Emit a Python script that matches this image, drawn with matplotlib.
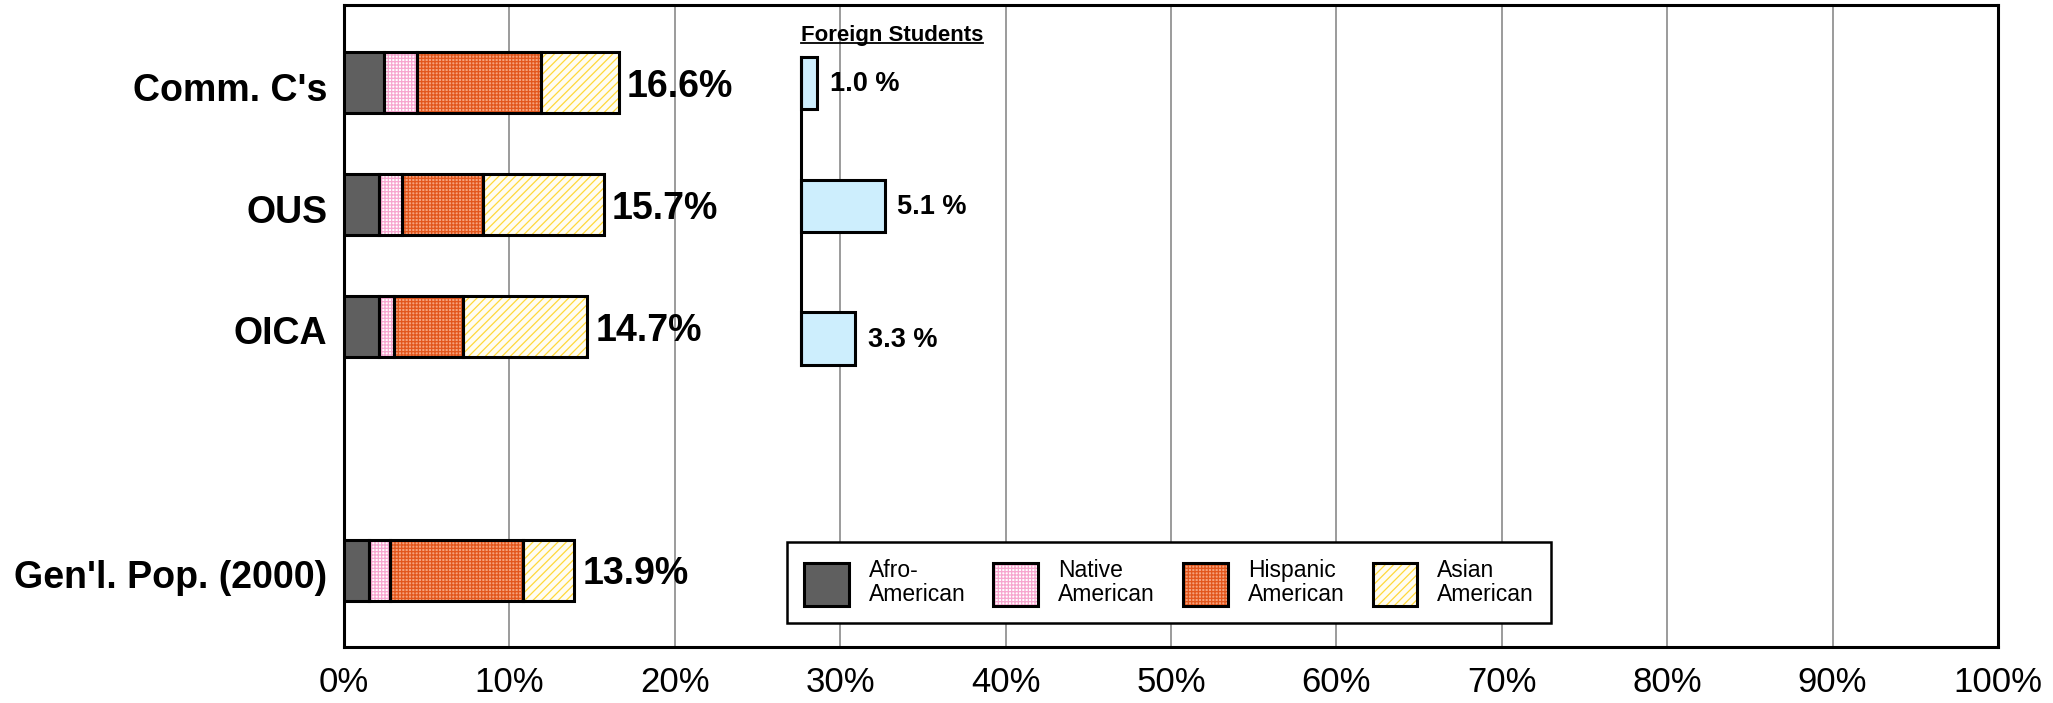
import matplotlib
matplotlib.use("Agg")
import matplotlib.pyplot as plt
from matplotlib.patches import Patch
from matplotlib.transforms import ScaledTranslation

# data (percent of enrollment)
categories = ["Comm. C's", "OUS", "OICA", "Gen'l. Pop. (2000)"]
afro = [2.4, 2.1, 2.1, 1.5]
native = [2.0, 1.4, 0.9, 1.3]
hispanic = [7.5, 4.9, 4.2, 8.0]
asian = [4.7, 7.3, 7.5, 3.1]
series_names = ["Afro-\nAmerican", "Native\nAmerican", "Hispanic\nAmerican", "Asian\nAmerican"]
foreign = [1.0, 5.1, 3.3]

# layout
ypos = [0, 1, 2, 4]
foreign_y = [0.0, 1.01, 2.1]
foreign_left = 27.6

plt.rcParams['font.family'] = ['Liberation Sans', 'DejaVu Sans']
plt.rcParams['hatch.linewidth'] = 0.9

fig = plt.figure(figsize=(20.53, 7.03), dpi=100)
ax = fig.add_axes([0.1676, 0.0797, 0.8056, 0.9132])

styles = [
    dict(color='#5f5f5f', edgecolor='#5f5f5f', hatch=None),
    dict(color='white', edgecolor='#f7a6cf', hatch='+++++'),
    dict(color='#f6a27c', edgecolor='#e2561c', hatch='+++++'),
    dict(color='#fffdf2', edgecolor='#ffd83a', hatch='////'),
]

left = [0.0] * len(categories)
handles = []
for vals, st in zip([afro, native, hispanic, asian], styles):
    ax.barh(ypos, vals, left=left, height=0.5, color=st['color'],
            edgecolor=st['edgecolor'], hatch=st['hatch'], linewidth=0, zorder=3)
    ax.barh(ypos, vals, left=left, height=0.5, fill=False,
            edgecolor='black', linewidth=2.2, zorder=4)
    handles.append((Patch(facecolor=st['color'], edgecolor=st['edgecolor'], hatch=st['hatch'], linewidth=0),
                    Patch(fill=False, edgecolor='black', linewidth=2.2)))
    left = [l + v for l, v in zip(left, vals)]

for y, tot in zip(ypos, left):
    ax.annotate(f'{tot:.1f}%', (tot, y), xytext=(6, -3), textcoords='offset points',
                va='center', ha='left', fontsize=27, fontweight='bold', zorder=5)

# foreign students mini-bars
ax.barh(foreign_y, foreign, left=foreign_left, height=0.43, color='#cdeefd',
        edgecolor='black', linewidth=2.2, zorder=4)
ax.plot([foreign_left, foreign_left], [foreign_y[0] - 0.215, foreign_y[-1] + 0.215],
        color='black', linewidth=2.2, zorder=5)
for y, v in zip(foreign_y, foreign):
    ax.annotate(f'{v:.1f} %', (foreign_left + v, y), xytext=(9, -1), textcoords='offset points',
                va='center', ha='left', fontsize=19.5, fontweight='bold', zorder=5)

title = ax.text(foreign_left, -0.39, 'Foreign Students', fontsize=16, fontweight='bold',
                ha='left', va='center', zorder=5)

ax.set_xlim(0, 100)
ax.set_ylim(4.631, -0.639)
ax.set_xticks(range(0, 101, 10))
ax.set_xticklabels([f'{t}%' for t in range(0, 101, 10)], fontsize=25)
ax.set_yticks(ypos)
ax.set_yticklabels(categories, fontsize=27, fontweight='bold')
ax.tick_params(axis='x', length=0, pad=14)
ax.tick_params(axis='y', length=0, pad=12)
shift = ScaledTranslation(0, -4 / 100, fig.dpi_scale_trans)
for lbl in ax.get_yticklabels():
    lbl.set_transform(lbl.get_transform() + shift)
ax.grid(axis='x', color='#808080', linewidth=1.1, zorder=0)
ax.set_axisbelow(True)
for sp in ax.spines.values():
    sp.set_linewidth(2.2)

leg = ax.legend(handles, series_names, ncol=4, loc='lower left',
                bbox_to_anchor=(0.268, 0.0374), borderaxespad=0, fontsize=16.5,
                handlelength=1.96, handleheight=2.45, handletextpad=0.87, columnspacing=1.22,
                borderpad=0.72, fancybox=False, framealpha=1, edgecolor='black')
leg.get_frame().set_linewidth(1.8)
leg.set_zorder(6)
for t in leg.get_texts():
    t.set_linespacing(1.1)

# underline under the "Foreign Students" heading
fig.canvas.draw()
bb = title.get_window_extent()
inv = ax.transData.inverted()
(x0, yl), (x1, _) = inv.transform([(bb.x0, bb.y0 + 3), (bb.x1, bb.y0 + 3)])
ax.plot([x0, x1], [yl, yl], color='black', linewidth=1.3, zorder=5)

fig.savefig('out.png', dpi=100)
